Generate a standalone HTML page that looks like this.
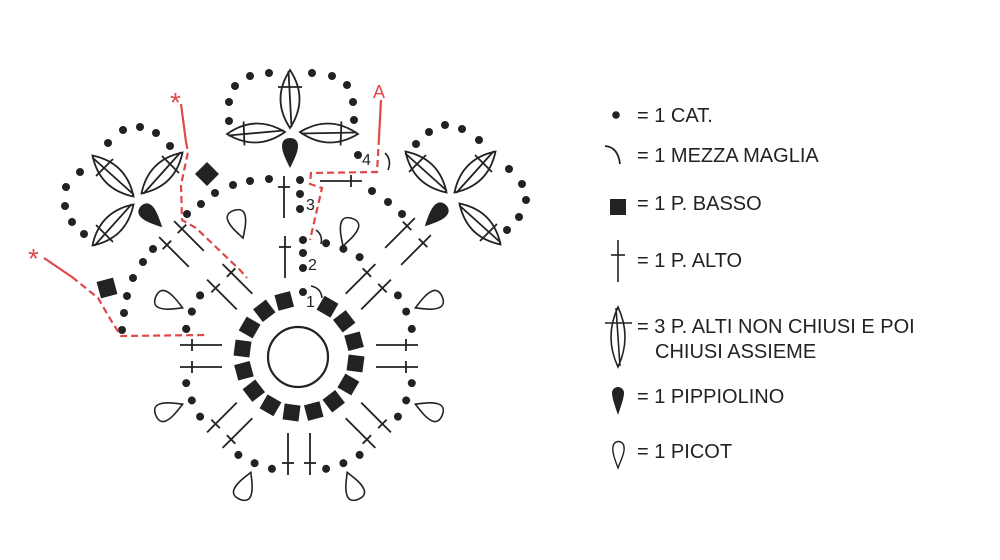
<!DOCTYPE html>
<html><head><meta charset="utf-8"><style>
html,body{margin:0;padding:0;background:#fff}
svg{display:block}
text{font-family:"Liberation Sans",sans-serif;fill:#222}
</style></head><body>
<svg width="1000" height="560" viewBox="0 0 1000 560" xmlns="http://www.w3.org/2000/svg">
<defs>
<g id="ts" stroke="#222" stroke-width="1.8" fill="none"><line x1="0" y1="-21" x2="0" y2="21"/><line x1="-6" y1="-10" x2="6" y2="-10"/></g>
<g id="cl" stroke="#222" stroke-width="1.8" fill="none"><path d="M0,-29 Q19,0 0,29 Q-19,0 0,-29Z"/><path d="M-1.5,-28 L1.5,28"/><line x1="-12" y1="-12" x2="12" y2="-12"/></g>
<path id="pip" d="M0,30 C-4,22 -8,14 -8,8 C-8,2 -4,0 0,0 C4,0 8,2 8,8 C8,14 4,22 0,30Z" fill="#222"/>
<path id="pic" d="M0,0 C-4,-7 -9,-15 -9,-22 C-9,-27 -5,-29 0,-29 C5,-29 9,-27 9,-22 C9,-15 4,-7 0,0Z" fill="none" stroke="#222" stroke-width="1.6"/>
<g id="g2" stroke="#222" stroke-width="1.8"><line x1="288" y1="237" x2="288" y2="279"/><line x1="310" y1="237" x2="310" y2="279"/><line x1="282" y1="249" x2="294" y2="249"/><line x1="304" y1="249" x2="316" y2="249"/></g>
<g id="d2" fill="#222"><circle cx="299" cy="240" r="4" transform="rotate(13.5 299 356)"/><circle cx="299" cy="240" r="4" transform="rotate(22.5 299 356)"/><circle cx="299" cy="240" r="4" transform="rotate(31.5 299 356)"/></g>
<rect id="sq" x="-8" y="-8" width="16" height="16" fill="#222"/>
</defs>

<circle cx="298" cy="357" r="30" fill="none" stroke="#222" stroke-width="2.2"/>
<g>
<use href="#sq" transform="rotate(30 299 356) translate(299 299)"/>
<use href="#sq" transform="rotate(52.5 299 356) translate(299 299)"/>
<use href="#sq" transform="rotate(75 299 356) translate(299 299)"/>
<use href="#sq" transform="rotate(97.5 299 356) translate(299 299)"/>
<use href="#sq" transform="rotate(120 299 356) translate(299 299)"/>
<use href="#sq" transform="rotate(142.5 299 356) translate(299 299)"/>
<use href="#sq" transform="rotate(165 299 356) translate(299 299)"/>
<use href="#sq" transform="rotate(187.5 299 356) translate(299 299)"/>
<use href="#sq" transform="rotate(210 299 356) translate(299 299)"/>
<use href="#sq" transform="rotate(232.5 299 356) translate(299 299)"/>
<use href="#sq" transform="rotate(255 299 356) translate(299 299)"/>
<use href="#sq" transform="rotate(277.5 299 356) translate(299 299)"/>
<use href="#sq" transform="rotate(300 299 356) translate(299 299)"/>
<use href="#sq" transform="rotate(322.5 299 356) translate(299 299)"/>
<use href="#sq" transform="rotate(345 299 356) translate(299 299)"/>
</g>

<use href="#g2" transform="rotate(45 299 356)"/>
<use href="#g2" transform="rotate(90 299 356)"/>
<use href="#g2" transform="rotate(135 299 356)"/>
<use href="#g2" transform="rotate(180 299 356)"/>
<use href="#g2" transform="rotate(225 299 356)"/>
<use href="#g2" transform="rotate(270 299 356)"/>
<use href="#g2" transform="rotate(315 299 356)"/>
<use href="#ts" transform="translate(285 257)"/>
<use href="#d2" transform="rotate(0 299 356)"/>
<use href="#d2" transform="rotate(45 299 356)"/>
<use href="#d2" transform="rotate(90 299 356)"/>
<use href="#d2" transform="rotate(135 299 356)"/>
<use href="#d2" transform="rotate(180 299 356)"/>
<use href="#d2" transform="rotate(225 299 356)"/>
<use href="#d2" transform="rotate(270 299 356)"/>
<use href="#d2" transform="rotate(-90 299 356)"/>
<use href="#pic" transform="rotate(67.5 299 356) translate(299 230)"/>
<use href="#pic" transform="rotate(112.5 299 356) translate(299 230)"/>
<use href="#pic" transform="rotate(157.5 299 356) translate(299 230)"/>
<use href="#pic" transform="rotate(202.5 299 356) translate(299 230)"/>
<use href="#pic" transform="rotate(247.5 299 356) translate(299 230)"/>
<use href="#pic" transform="rotate(292.5 299 356) translate(299 230)"/>
<use href="#pic" transform="translate(243 238) rotate(-18)"/>
<use href="#pic" transform="translate(343 246) rotate(18)"/>

<g fill="#222">
<circle cx="303" cy="292" r="4"/><circle cx="303" cy="253" r="4"/><circle cx="303" cy="268" r="4"/><circle cx="303" cy="240" r="4"/>
<circle cx="300" cy="180" r="4"/><circle cx="300" cy="194" r="4"/><circle cx="300" cy="209" r="4"/>
<circle cx="358" cy="155" r="4"/>
<circle cx="233" cy="185" r="4"/><circle cx="250" cy="181" r="4"/><circle cx="269" cy="179" r="4"/>
<circle cx="215" cy="193" r="4"/><circle cx="201" cy="204" r="4"/><circle cx="187" cy="214" r="4"/>
<circle cx="372" cy="191" r="4"/><circle cx="388" cy="202" r="4"/><circle cx="402" cy="214" r="4"/>
<circle cx="153" cy="249" r="4"/><circle cx="143" cy="262" r="4"/><circle cx="133" cy="278" r="4"/>
<circle cx="127" cy="296" r="4"/><circle cx="124" cy="313" r="4"/><circle cx="122" cy="330" r="4"/>
<circle cx="235" cy="86" r="4"/><circle cx="250" cy="76" r="4"/><circle cx="269" cy="73" r="4"/>
<circle cx="312" cy="73" r="4"/><circle cx="332" cy="76" r="4"/><circle cx="347" cy="85" r="4"/>
<circle cx="353" cy="102" r="4"/><circle cx="354" cy="120" r="4"/><circle cx="229" cy="102" r="4"/><circle cx="229" cy="121" r="4"/>
<circle cx="170" cy="146" r="4"/><circle cx="156" cy="133" r="4"/><circle cx="140" cy="127" r="4"/>
<circle cx="123" cy="130" r="4"/><circle cx="108" cy="143" r="4"/><circle cx="80" cy="172" r="4"/>
<circle cx="66" cy="187" r="4"/><circle cx="65" cy="206" r="4"/><circle cx="72" cy="222" r="4"/><circle cx="84" cy="234" r="4"/>
<circle cx="416" cy="144" r="4"/><circle cx="429" cy="132" r="4"/><circle cx="445" cy="125" r="4"/>
<circle cx="462" cy="129" r="4"/><circle cx="479" cy="140" r="4"/><circle cx="509" cy="169" r="4"/>
<circle cx="522" cy="184" r="4"/><circle cx="526" cy="200" r="4"/><circle cx="519" cy="217" r="4"/><circle cx="507" cy="230" r="4"/>
</g>

<use href="#ts" transform="translate(189 236) rotate(-45)"/>
<use href="#ts" transform="translate(174 252) rotate(-45)"/>
<use href="#ts" transform="translate(400 233) rotate(45)"/>
<use href="#ts" transform="translate(416 250) rotate(45)"/>
<use href="#ts" transform="translate(284 197)"/>
<use href="#ts" transform="translate(341 181) rotate(90)"/>

<rect x="-8.5" y="-8.5" width="17" height="17" fill="#222" transform="translate(207 174) rotate(45)"/>
<rect x="-8.5" y="-8.5" width="17" height="17" fill="#222" transform="translate(107 288) rotate(-15)"/>

<use href="#cl" transform="translate(290 99)"/>
<use href="#cl" transform="translate(256 133) rotate(-92)"/>
<use href="#cl" transform="translate(329 133) rotate(92)"/>
<use href="#pip" transform="translate(290 138)"/>

<use href="#cl" transform="translate(113 176) rotate(-45)"/>
<use href="#cl" transform="translate(162 173) rotate(45)"/>
<use href="#cl" transform="translate(113 225) rotate(-135)"/>
<use href="#pip" transform="translate(141 206) rotate(-45)"/>

<use href="#cl" transform="translate(426 172) rotate(-45)"/>
<use href="#cl" transform="translate(475 172) rotate(45)"/>
<use href="#cl" transform="translate(480 224) rotate(135)"/>
<use href="#pip" transform="translate(446 205) rotate(45)"/>

<g stroke="#222" stroke-width="1.6" fill="none">
<path d="M311,286 Q321,288 322,298"/>
<path d="M316,230 Q323,235 321,244"/>
<path d="M385,153 Q392,160 388,170"/>
</g>
<text x="306" y="307" font-size="16">1</text>
<text x="308" y="270" font-size="16">2</text>
<text x="306" y="210" font-size="16">3</text>
<text x="362" y="165" font-size="16">4</text>

<g stroke="#e04848" stroke-width="2.2" fill="none">
<line x1="44" y1="258" x2="72" y2="277"/>
<path d="M72,277 L98,298 L112,322 L121,336 L205,335" stroke-dasharray="7,4"/>
<line x1="181" y1="104" x2="186" y2="142"/>
<path d="M186,142 L188,152 L181,185 L182,220 L196,228 L240,270 L247,278" stroke-dasharray="7,4"/>
<line x1="381" y1="100" x2="379" y2="138"/>
<path d="M379,138 L377,172 L311,173 L310,184 L322,188 L310,240" stroke-dasharray="7,4"/>
</g>
<g font-size="28">
<text x="28" y="268" style="fill:#e04848">*</text>
<text x="170" y="112" style="fill:#e04848">*</text>
<text x="373" y="98" style="fill:#e04848" font-size="18">A</text>
</g>

<circle cx="616" cy="115" r="3.8" fill="#222"/>
<path d="M605,146 Q618,147 620,164" stroke="#222" stroke-width="1.8" fill="none"/>
<rect x="610" y="199" width="16" height="16" fill="#222"/>
<g stroke="#222" stroke-width="1.6"><line x1="618" y1="240" x2="618" y2="282"/><line x1="611" y1="255" x2="625" y2="255"/></g>
<g stroke="#222" stroke-width="1.6" fill="none"><path d="M618,307 Q632,337 618,367 Q604,337 618,307Z"/><line x1="616" y1="308" x2="620" y2="366"/><line x1="605" y1="323" x2="632" y2="323"/></g>
<path d="M618,415 C615,406 612,398 612,393 A6,6 0 0 1 624,393 C624,398 621,406 618,415Z" fill="#222"/>
<path d="M618,468 C615,460 612,452 613,447 A5.5,5.5 0 0 1 624,447 C625,452 621,460 618,468Z" fill="none" stroke="#222" stroke-width="1.4"/>
<g font-size="20">
<text x="637" y="122">= 1 CAT.</text>
<text x="637" y="162">= 1 MEZZA MAGLIA</text>
<text x="637" y="210">= 1 P. BASSO</text>
<text x="637" y="267">= 1 P. ALTO</text>
<text x="637" y="333">= 3 P. ALTI NON CHIUSI E POI</text>
<text x="655" y="358">CHIUSI ASSIEME</text>
<text x="637" y="403">= 1 PIPPIOLINO</text>
<text x="637" y="458">= 1 PICOT</text>
</g>
</svg>
</body></html>
